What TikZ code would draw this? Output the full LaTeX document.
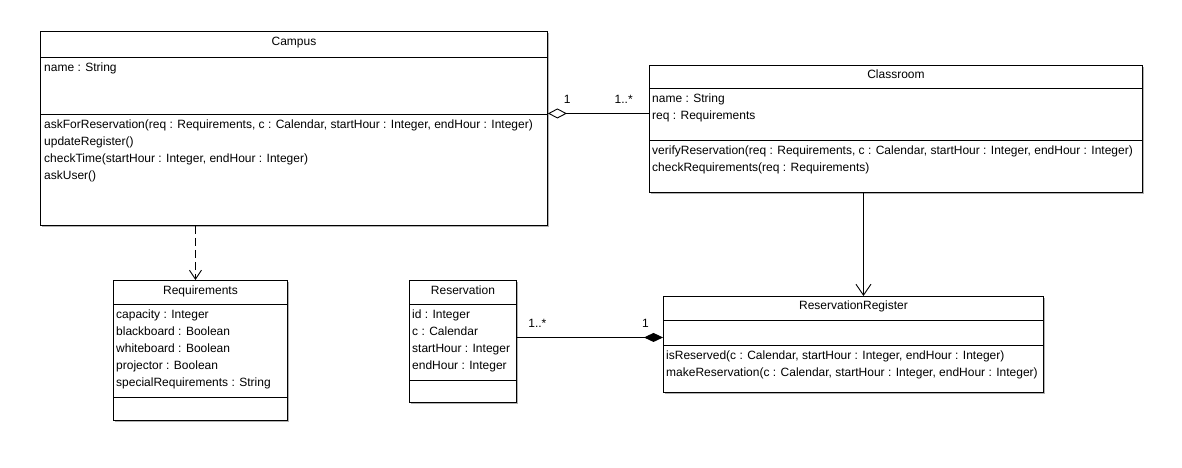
\documentclass[tikz,border=0pt]{standalone}
\usepackage{fontspec}
\setmainfont{Liberation Sans}
\usetikzlibrary{arrows.meta,positioning,shadows}

\begin{document}
\begin{tikzpicture}[x=1pt,y=-1pt, every node/.style={font=\fontsize{12}{17}\selectfont, inner sep=0pt},
    umlclass/.style={draw, line width=0.9pt, fill=white, anchor=north west, drop shadow={shadow xshift=1.5pt, shadow yshift=-1.5pt, fill=black!30, opacity=1}},
    classname/.style={anchor=base}, members/.style={anchor=north west, align=left}, mult/.style={above=10pt},
    aggr/.style={{Diamond[open,length=19pt,width=10pt]}-, line width=0.9pt},
    comp/.style={-{Diamond[length=19pt,width=9pt]}, line width=0.9pt},
    nav/.style={-{Straight Barb[length=11pt,width=15pt]}, line width=0.9pt},
    dep/.style={-{Straight Barb[length=9pt,width=12pt]}, dash pattern=on 8pt off 4pt, line width=0.9pt}]
        \useasboundingbox (0,0) rectangle (1182,467);
        % class boxes
        \node[umlclass, minimum width=507pt, minimum height=194pt] (campus)    at (40,31)  {};
        \node[umlclass, minimum width=493pt, minimum height=127pt] (classroom) at (649,65) {};
        \node[umlclass, minimum width=174pt, minimum height=140pt] (reqs)      at (113,280) {};
        \node[umlclass, minimum width=107pt, minimum height=122pt] (resv)      at (409,280) {};
        \node[umlclass, minimum width=380pt, minimum height=96pt]  (register)  at (663,296) {};
        \foreach \cls/\sep in {campus/26, campus/83, classroom/23, classroom/75, reqs/24, reqs/117, resv/24, resv/100, register/24, register/49}
            \draw[line width=0.9pt] ([yshift=-\sep pt]\cls.north west) -- ([yshift=-\sep pt]\cls.north east);
        % names
        \node[classname] (campus_name)    at ([yshift=-14pt]campus.north)    {Campus};
        \node[classname] (classroom_name) at ([yshift=-13pt]classroom.north) {Classroom};
        \node[classname] (reqs_name)      at ([yshift=-14pt]reqs.north)      {Requirements};
        \node[classname] (resv_name)      at ([yshift=-14pt]resv.north)      {Reservation};
        \node[classname] (register_name)  at ([yshift=-13pt]register.north)  {ReservationRegister};
        % attributes and operations
        \node[members] (campus_attr)    at ([xshift=4pt,yshift=-32pt]campus.north west)    {name : String};
        \node[members] (campus_ops)     at ([xshift=4pt,yshift=-89pt]campus.north west)    {askForReservation(req : Requirements, c : Calendar, startHour : Integer, endHour : Integer)\\updateRegister()\\checkTime(startHour : Integer, endHour : Integer)\\askUser()};
        \node[members] (classroom_attr) at ([xshift=3pt,yshift=-29pt]classroom.north west) {name : String\\req : Requirements};
        \node[members] (classroom_ops)  at ([xshift=3pt,yshift=-81pt]classroom.north west) {verifyReservation(req : Requirements, c : Calendar, startHour : Integer, endHour : Integer)\\checkRequirements(req : Requirements)};
        \node[members] (reqs_attr)      at ([xshift=3pt,yshift=-30pt]reqs.north west)      {capacity : Integer\\blackboard : Boolean\\whiteboard : Boolean\\projector : Boolean\\specialRequirements : String};
        \node[members] (resv_attr)      at ([xshift=3pt,yshift=-30pt]resv.north west)      {id : Integer\\c : Calendar\\startHour : Integer\\endHour : Integer};
        \node[members] (register_ops)   at ([xshift=3pt,yshift=-55pt]register.north west) {isReserved(c : Calendar, startHour : Integer, endHour : Integer)\\makeReservation(c : Calendar, startHour : Integer, endHour : Integer)};
        % relations
        \path ([yshift=15pt]campus.east) edge[aggr] node[mult,pos=0.19] (campus_mult) {1} node[mult,pos=0.75] (classroom_mult) {1..*} ([yshift=15pt]campus.east -| classroom.west)
              ([yshift=4pt]resv.east) edge[comp] node[mult,pos=0.14] (resv_mult) {1..*} node[mult,pos=0.88] (register_mult) {1} ([yshift=4pt]resv.east -| register.west)
              ([xshift=10pt]classroom.south -| register.north) edge[nav] ([xshift=10pt]register.north)
              ([xshift=-5pt]campus.south -| reqs.north) edge[dep] ([xshift=-5pt]reqs.north);
\end{tikzpicture}
\end{document}
